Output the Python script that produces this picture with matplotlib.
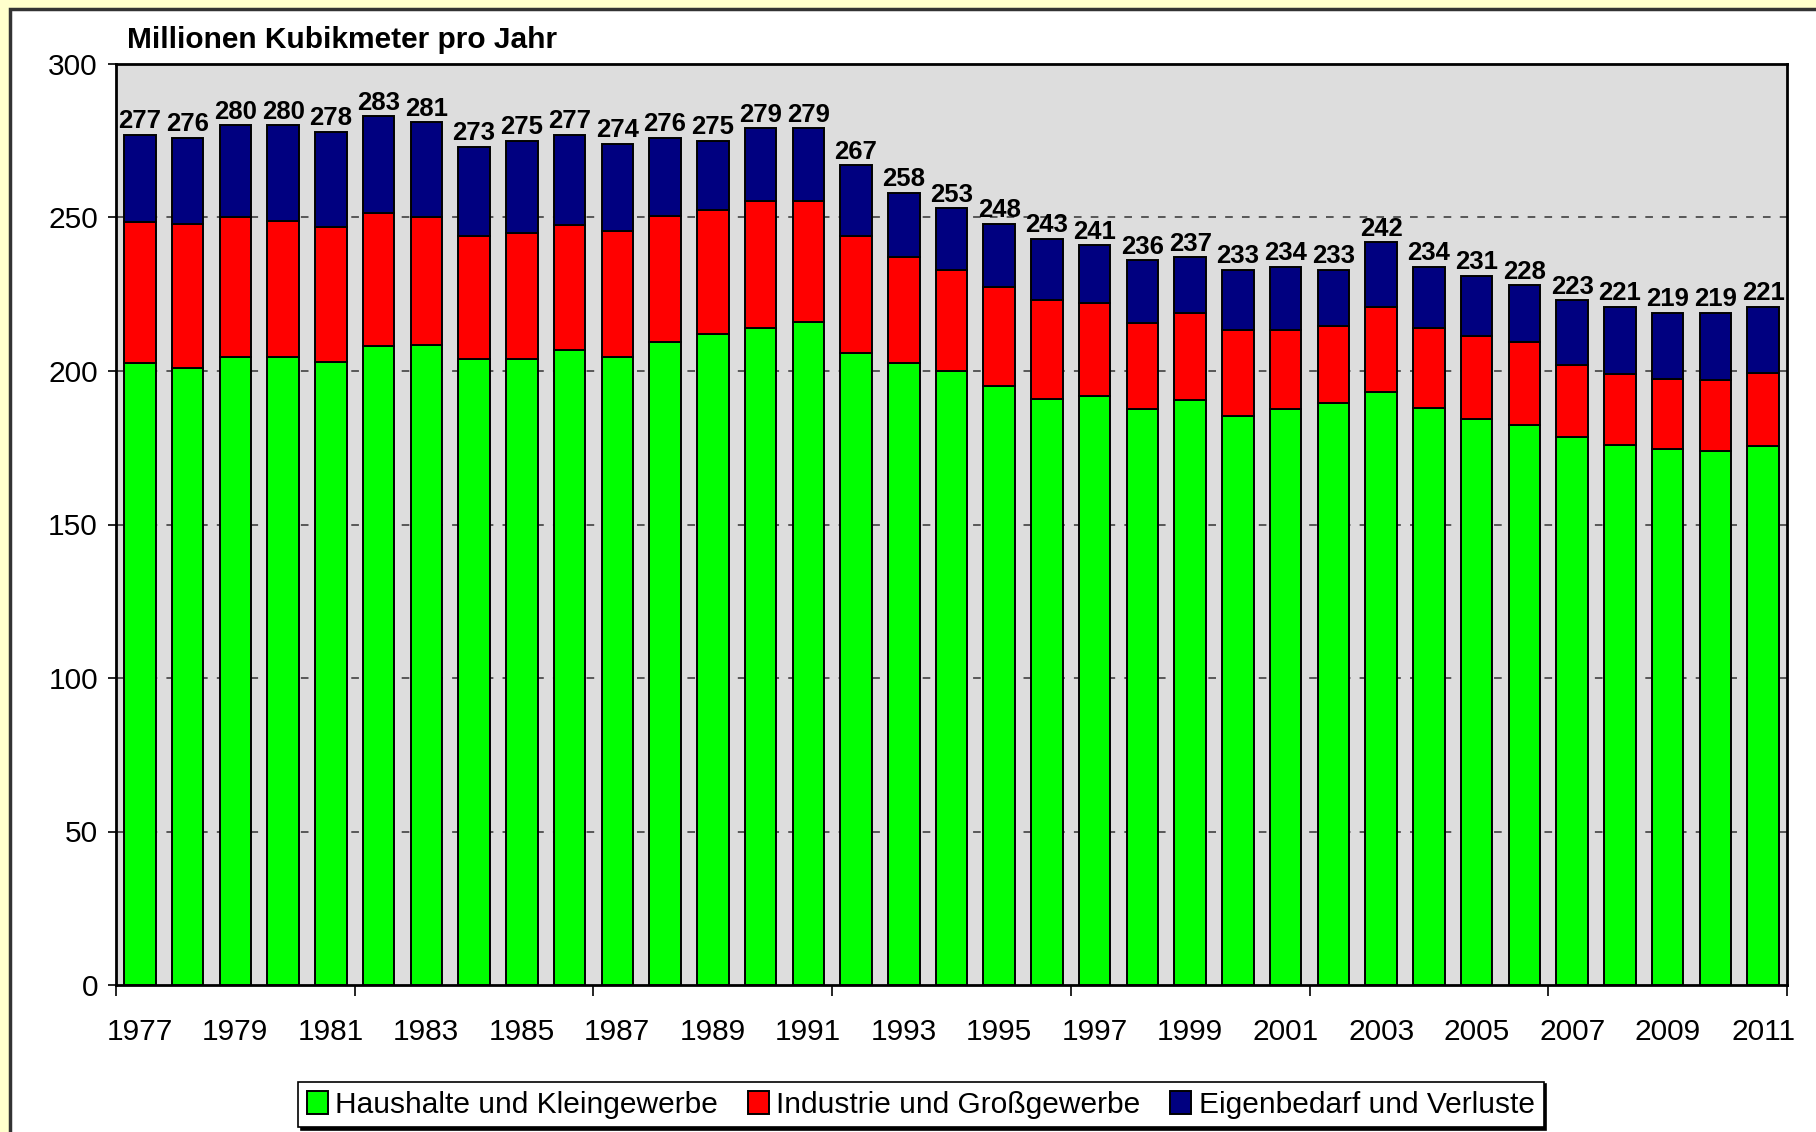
import matplotlib
matplotlib.use("Agg")
from matplotlib import pyplot as plt
from matplotlib.patches import Rectangle

# Werte (Mio. m3 pro Jahr)
jahre = list(range(1977, 2012))
haushalte = [202.5, 201, 204.5, 204.5, 203, 208, 208.5, 204, 204, 207, 204.5, 209.5,
             212, 214, 216, 206, 202.5, 200, 195, 191, 192, 187.5, 190.5, 185.5,
             187.5, 189.5, 193, 188, 184.5, 182.5, 178.5, 176, 174.5, 174, 175.5]
industrie = [46, 47, 45.5, 44.5, 44, 43.5, 41.5, 40, 41, 40.5, 41, 41,
             40.5, 41.5, 39.5, 38, 34.5, 33, 32.5, 32, 30, 28, 28.5, 28,
             26, 25, 28, 26, 27, 27, 23.5, 23, 23, 23, 24]
verluste = [28.5, 28, 30, 31, 31, 31.5, 31, 29, 30, 29.5, 28.5, 25.5,
            22.5, 23.5, 23.5, 23, 21, 20, 20.5, 20, 19, 20.5, 18, 19.5,
            20.5, 18.5, 21, 20, 19.5, 18.5, 21, 22, 21.5, 22, 21.5]
summen = [277, 276, 280, 280, 278, 283, 281, 273, 275, 277, 274, 276,
          275, 279, 279, 267, 258, 253, 248, 243, 241, 236, 237, 233,
          234, 233, 242, 234, 231, 228, 223, 221, 219, 219, 221]
serien = ["Haushalte und Kleingewerbe", "Industrie und Großgewerbe", "Eigenbedarf und Verluste"]

plt.rcParams['font.family'] = ['Liberation Sans', 'DejaVu Sans']

fig = plt.figure(figsize=(18.16, 11.32), dpi=100, facecolor='#FFFFCC')
fig.patches.append(Rectangle((10 / 1816, -0.1), 1.2, 1.1 - 9 / 1132, transform=fig.transFigure,
                             facecolor='white', edgecolor='#333333', linewidth=2.5, zorder=-5))

ax = fig.add_axes([116 / 1816, 1 - 985 / 1132, (1787 - 116) / 1816, (985 - 64) / 1132])
ax.set_facecolor('#DDDDDD')

x = list(range(len(jahre)))
b1 = ax.bar(x, haushalte, width=0.66, color='#00FF00', edgecolor='black', linewidth=1.4, zorder=3)
unten2 = haushalte
b2 = ax.bar(x, industrie, width=0.66, bottom=unten2, color='#FF0000', edgecolor='black', linewidth=1.4, zorder=3)
unten3 = [h + i for h, i in zip(haushalte, industrie)]
b3 = ax.bar(x, verluste, width=0.66, bottom=unten3, color='#000080', edgecolor='black', linewidth=1.4, zorder=3)

oben = [u + v for u, v in zip(unten3, verluste)]
for xi, yi, s in zip(x, oben, summen):
    ax.text(xi, yi + 0.5, str(s), ha='center', va='bottom', fontsize=18.5, fontweight='bold', zorder=4)

ax.set_xlim(-0.5, len(jahre) - 0.5)
ax.set_ylim(0, 300)
ax.set_yticks(range(0, 301, 50))
ax.tick_params(axis='y', labelsize=21.5, length=6, width=1.2, pad=7, direction='out')
for yv in range(50, 300, 50):
    ax.axhline(yv, color='#333333', linewidth=1.1, linestyle=(0, (5, 6)), zorder=1)

ax.set_xticks(x[::2], [str(j) for j in jahre[::2]])
ax.tick_params(axis='x', which='major', labelsize=21.5, length=0, pad=24)
ax.set_xticks([v - 0.5 for v in range(0, len(jahre) + 1, 5)], minor=True)
ax.tick_params(axis='x', which='minor', length=8, width=1.2, direction='out')

for s in ax.spines.values():
    s.set_linewidth(2)
    s.set_color('black')

fig.text(127 / 1816, 1 - 48 / 1132, "Millionen Kubikmeter pro Jahr", fontsize=21.5,
         fontweight='bold', va='baseline', ha='left')

leg = fig.legend([b1, b2, b3], serien, loc='lower center', bbox_to_anchor=(0.507, 0.004),
                 ncol=3, prop={'size': 21.5},
                 frameon=True, fancybox=False, shadow={'color': 'black', 'alpha': 1},
                 handlelength=0.7, handleheight=0.8, handletextpad=0.25,
                 columnspacing=1.0, borderpad=0.3, borderaxespad=0)
leg.get_frame().set_edgecolor('black')
leg.get_frame().set_linewidth(1.2)

fig.savefig("out.png", dpi=100, facecolor=fig.get_facecolor())
